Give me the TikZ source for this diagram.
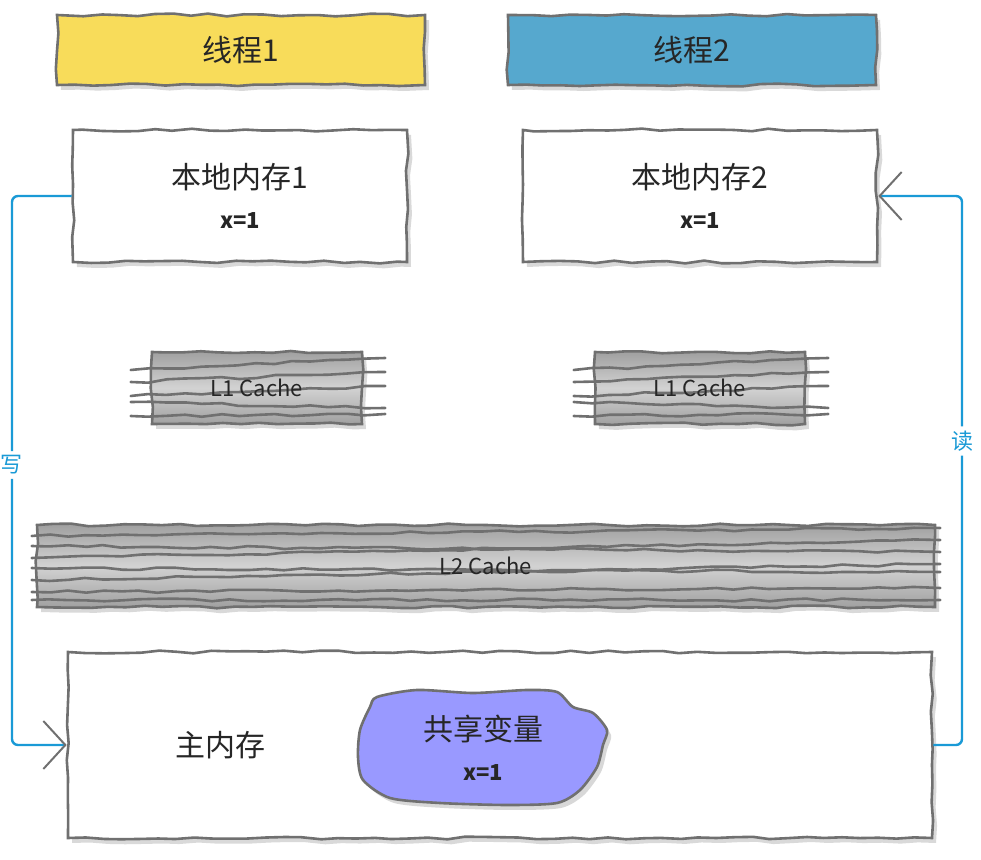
\documentclass[tikz,border=0pt]{standalone}
\usepackage{fontspec}
\setmainfont{Noto Sans CJK SC}
\usetikzlibrary{positioning, calc, arrows.meta, shadows, decorations.pathmorphing}
\definecolor{threadyellow}{RGB}{248,220,90}
\definecolor{threadblue}{RGB}{86,168,206}
\definecolor{wireblue}{RGB}{26,154,214}
\definecolor{edgegray}{RGB}{112,112,112}
\definecolor{sharedviolet}{RGB}{153,153,255}
\tikzset{
  sketch/.style={decorate, decoration={random steps, segment length=9pt, amplitude=0.7pt}},
  box/.style={draw=edgegray, line width=1.3pt, sketch, drop shadow={opacity=0.3, shadow xshift=2pt, shadow yshift=-2.5pt}, text=black!85, align=center, font=\fontsize{15}{20}\selectfont},
  cachebox/.style={box, top color=gray!75, bottom color=gray!75, middle color=gray!35},
  cachetext/.style={font=\fontsize{11}{13}\selectfont, text=black!85},
  scribble/.style={draw=edgegray, line width=1.3pt, line cap=round},
  wire/.style={draw=wireblue, line width=1.2pt, rounded corners=3pt},
  barb/.style={-{Straight Barb[length=11pt, width=24pt, line width=1pt, color=edgegray]}},
  rwlabel/.style={text=wireblue, font=\fontsize{11}{13}\selectfont, inner sep=2pt}
}
\newcommand{\xval}{{\fontsize{11}{13}\selectfont\bfseries x=1}}
\begin{document}
\begin{tikzpicture}[x=0.5pt, y=-0.5pt]
  \pgfmathsetseed{7}
  \useasboundingbox (0,0) rectangle (981,860);
  % threads
  \node[box, fill=threadyellow, minimum width=184pt, minimum height=35pt] (thread1) at (241,50) {线程1};
  \node[box, fill=threadblue, minimum width=184pt, minimum height=35pt] (thread2) at (692,50) {线程2};
  % local memory
  \node[box, fill=white, minimum width=167pt, minimum height=66pt] (local1) at (240,196) {本地内存1\\\xval};
  \node[box, fill=white, minimum width=177pt, minimum height=66pt] (local2) at (700,196) {本地内存2\\\xval};
  % caches
  \node[cachebox, minimum width=105pt, minimum height=36pt] (lone1) at (257,388) {};
  \node[cachebox, minimum width=105pt, minimum height=36pt] (lone2) at (700,388) {};
  \node[cachebox, minimum width=449pt, minimum height=41pt] (ltwo) at (486,566) {};
  \foreach \c in {lone1,lone2}{
    \foreach \a/\b in {-18/-30, -6/-16, 8/-2, 14/20, 28/26}
      \draw[scribble, sketch] ($(\c.west)+(-20,\a)$) -- ($(\c.east)+(22,\b)$);
  }
  \foreach \a/\b in {-30/-38, -20/-14, -8/-26, 2/6, 14/-2, 26/22, 34/34}
    \draw[scribble, sketch] ($(ltwo.west)+(-4,\a)$) -- ($(ltwo.east)+(4,\b)$);
  \node[cachetext] at (lone1) {L1 Cache};
  \node[cachetext] at (lone2) {L1 Cache};
  \node[cachetext] at (ltwo) {L2 Cache};
  % main memory
  \node[box, fill=white, minimum width=432pt, minimum height=93pt] (main) at (500,745) {};
  \node[text=black!85, font=\fontsize{15}{18}\selectfont] (mainlabel) at (220,745) {主内存};
  \draw[draw=edgegray, line width=1.3pt, fill=sharedviolet, drop shadow={opacity=0.3, shadow xshift=2pt, shadow yshift=-2.5pt}]
    plot[smooth cycle, tension=0.45] coordinates {(377,697) (417,690) (473,693) (527,690) (557,692) (573,707) (593,713) (607,730) (603,745) (597,767) (580,790) (557,803) (507,805) (440,803) (390,798) (363,780) (358,757) (360,730) (370,707)};
  \node[text=black!85, align=center, font=\fontsize{15}{20}\selectfont] (shared) at (483,748) {共享变量\\\xval};
  % write / read
  \node[rwlabel, fill=white] (write) at (12,465) {写};
  \node[rwlabel, fill=white] (read) at (962,441) {读};
  \draw[wire] (local1.west) -| (write.north);
  \draw[wire, barb] (write.south) |- (main.west);
  \draw[wire] (main.east) -| (read.south);
  \draw[wire, barb] (read.north) |- (local2.east);
\end{tikzpicture}
\end{document}
